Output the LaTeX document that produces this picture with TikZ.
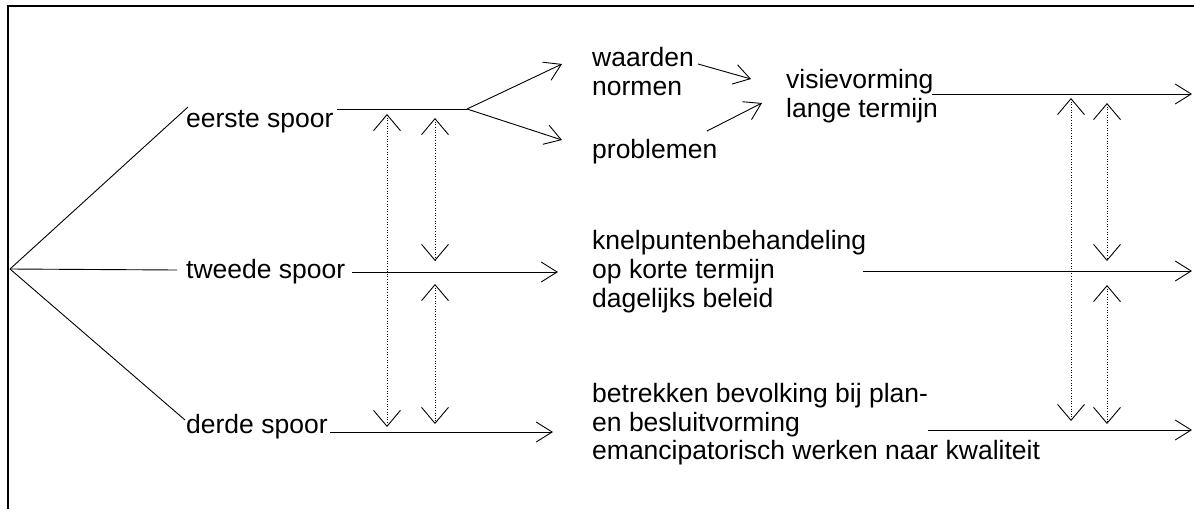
\documentclass[tikz,border=0pt]{standalone}
\usepackage{fontspec}
\setmainfont{Liberation Sans}
\usetikzlibrary{arrows.meta}
\begin{document}
\begin{tikzpicture}[x=1pt,y=-1pt,
  lbl/.style={anchor=base west,inner sep=0pt,font=\fontsize{26.5}{29}\selectfont},
  ln/.style={line width=0.9pt},
  arr/.style={ln,-{Straight Barb[length=16pt,width=20pt,line width=0.9pt]}},
  dbl/.style={line width=0.6pt,dotted,{Straight Barb[length=16pt,width=27pt,line width=0.9pt]}-{Straight Barb[length=16pt,width=27pt,line width=0.9pt]}},
  frame/.style={line width=2pt}]
\useasboundingbox (0,0) rectangle (1194,509);
% frame
\draw[frame] (8,509) -- (8,6) -- (1194,6);
% text nodes
\node[lbl] (eerste) at (186,127) {eerste spoor};
\node[lbl] (tweede) at (186,278) {tweede spoor};
\node[lbl] (derde) at (186,433) {derde spoor};
\node[lbl] (waarden) at (592,66) {waarden};
\node[lbl] (normen) at (592,95) {normen};
\node[lbl] (problemen) at (592,158) {problemen};
\node[lbl] (visie) at (786,88) {visievorming};
\node[lbl] (lange) at (786,117) {lange termijn};
\node[lbl] (knel) at (592,249) {knelpuntenbehandeling};
\node[lbl] (kort) at (592,278) {op korte termijn};
\node[lbl] (dag) at (592,307) {dagelijks beleid};
\node[lbl] (betr) at (592,402) {betrekken bevolking bij plan-};
\node[lbl] (besl) at (592,431) {en besluitvorming};
\node[lbl] (emanc) at (592,459) {emancipatorisch werken naar kwaliteit};
% coordinates
\coordinate (root) at (10,269);
\coordinate (e1) at (188,107);
\coordinate (t1) at (177,270);
\coordinate (d1) at (185,420);
\coordinate (e2) at (337,109);
\coordinate (fork) at (467,109);
\coordinate (wa) at (562,64);
\coordinate (pr) at (562,140);
\coordinate (t2) at (352,272);
\coordinate (t3) at (558,272);
\coordinate (d2) at (330,432);
\coordinate (d3) at (553,432);
\coordinate (wout) at (698,64);
\coordinate (win) at (751,79);
\coordinate (pout) at (707,131);
\coordinate (pin) at (762,103);
\coordinate (v1) at (932,94);
\coordinate (v2) at (1192,94);
\coordinate (k1) at (863,271);
\coordinate (k2) at (1192,271);
\coordinate (b1) at (928,430);
\coordinate (b2) at (1192,430);
% solid connectors
\draw[ln] (root) -- (e1);
\draw[ln] (root) -- (t1);
\draw[ln] (root) -- (d1);
\draw[ln] (e2) -- (fork);
\draw[arr] (fork) -- (wa);
\draw[arr] (fork) -- (pr);
\draw[arr] (t2) -- (t3);
\draw[arr] (d2) -- (d3);
\draw[arr] (wout) -- (win);
\draw[arr] (pout) -- (pin);
\draw[arr] (v1) -- (v2);
\draw[arr] (k1) -- (k2);
\draw[arr] (b1) -- (b2);
% dotted double arrows
\coordinate (a1t) at (387,114); \coordinate (a1b) at (387,427);
\coordinate (a2t) at (435,118); \coordinate (a2b) at (435,261);
\coordinate (a3t) at (435,284); \coordinate (a3b) at (435,424);
\coordinate (r1t) at (1071,98); \coordinate (r1b) at (1071,421);
\coordinate (r2t) at (1107,103); \coordinate (r2b) at (1107,261);
\coordinate (r3t) at (1107,285); \coordinate (r3b) at (1107,424);
\draw[dbl] (a1t) -- (a1b);
\draw[dbl] (a2t) -- (a2b);
\draw[dbl] (a3t) -- (a3b);
\draw[dbl] (r1t) -- (r1b);
\draw[dbl] (r2t) -- (r2b);
\draw[dbl] (r3t) -- (r3b);
\end{tikzpicture}
\end{document}
